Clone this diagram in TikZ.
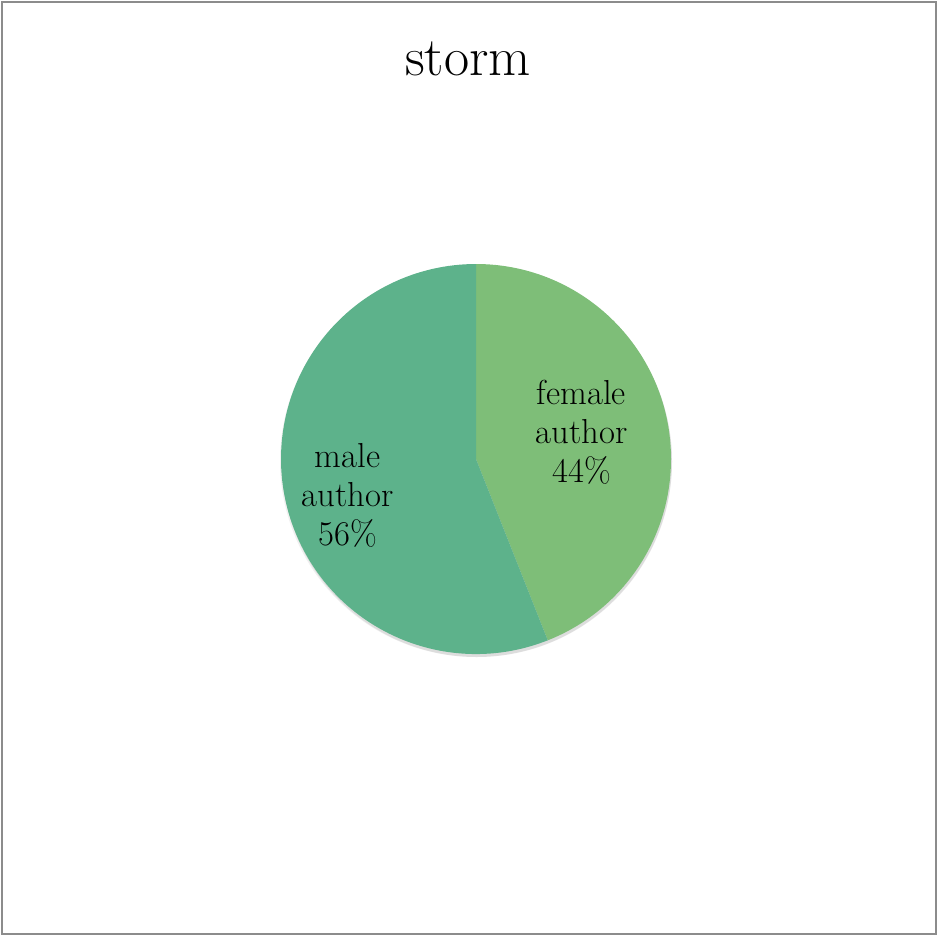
\documentclass[tikz,border=0pt]{standalone}
\definecolor{femalegreen}{RGB}{126,190,120}
\definecolor{malegreen}{RGB}{93,178,139}
\definecolor{framegray}{RGB}{140,140,140}
\tikzset{slicelabel/.style={align=center, anchor=base, inner sep=0pt, font=\fontsize{26}{28.9}\selectfont}}
\begin{document}
\begin{tikzpicture}[x=0.75pt,y=-0.75pt]
        \useasboundingbox (0,0) rectangle (938,936);
        \draw[framegray, line width=1.5pt] (2,1.5) rectangle (936,933.5);
        \node[anchor=base, inner sep=0pt, font=\fontsize{41}{48}\selectfont] (title) at (468,75) {storm};
        \coordinate (c) at (476,459);
        \fill[black, opacity=0.06] ([shift={(0,2)}]c) circle (196);
        \fill[black, opacity=0.08] ([shift={(1,3)}]c) circle (195);
        \fill[femalegreen] (c) -- ++(-90:195) arc (-90:68.4:195) -- cycle;
        \fill[malegreen] (c) -- ++(68.4:195) arc (68.4:270:195) -- cycle;
        \node[slicelabel] (female) at (581.5,482) {female\\author\\44\%};
        \node[slicelabel] (male) at (347.5,545) {male\\author\\56\%};
      \end{tikzpicture}
\end{document}
